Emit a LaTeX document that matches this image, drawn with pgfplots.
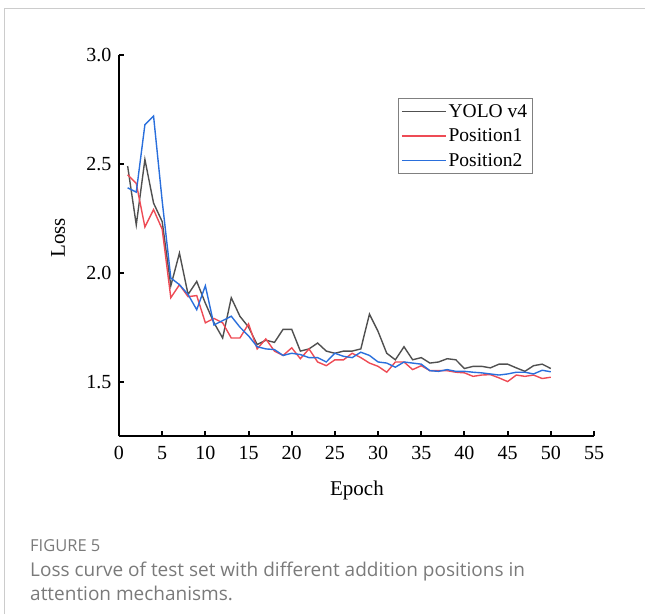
\documentclass[border=0pt]{standalone}
\usepackage{fontspec}
\setmainfont{Liberation Serif}
\newfontfamily\capfont{Open Sans}
\usepackage{pgfplots}
\pgfplotsset{compat=1.18}

\definecolor{yolo}{HTML}{505050}
\definecolor{posone}{HTML}{EE4B55}
\definecolor{postwo}{HTML}{2A6FDC}
\definecolor{framecol}{HTML}{CCCCCC}
\definecolor{captext}{HTML}{7A7A7A}

\begin{document}
\begin{tikzpicture}
% axis origin (south west of the plot box) sits at pixel (119,436) of the figure
\path[use as bounding box] (-119pt,-178pt) rectangle (526pt,436pt);
\draw[framecol, line width=1pt] (-114pt,-178pt) -- (-114pt,427pt) -- (526pt,427pt);

\begin{axis}[
    scale only axis, width=475pt, height=381pt,
    xmin=0, xmax=55, ymin=1.25, ymax=3.0,
    axis x line=bottom, axis y line=left,
    axis line style={-, line width=2pt},
    tick align=inside, major tick length=5pt,
    tick style={line width=2pt, black},
    xtick={0,5,...,55}, ytick={1.5,2.0,2.5,3.0},
    yticklabel style={xshift=-4pt, /pgf/number format/.cd, fixed, fixed zerofill, precision=1},
    xticklabel style={yshift=-7pt},
    /pgf/number format/assume math mode=true,
    ticklabel style={font=\fontsize{20}{22}\selectfont},
    label style={font=\fontsize{21}{24}\selectfont},
    xlabel={Epoch}, ylabel={Loss},
    xlabel style={at={(axis description cs:0.501,-0.142)}, anchor=center},
    ylabel style={at={(axis description cs:-0.128,0.52)}, anchor=center},
    legend style={at={(rel axis cs:0.587,0.887)}, anchor=north west,
        draw=gray, line width=0.8pt, font=\fontsize{19.5}{21}\selectfont,
        inner xsep=3pt, inner ysep=4pt, row sep=6pt},
    legend cell align=left,
    legend image code/.code={\draw[#1] (0pt,0pt) -- (44pt,0pt);},
    legend image post style={line width=1.4pt},
    every axis plot/.append style={line width=1.4pt},
]
\addplot[color=yolo] coordinates {
 (1,2.49) (2,2.22) (3,2.52) (4,2.32) (5,2.235) (6,1.94) (7,2.09) (8,1.90) (9,1.96) (10,1.86)
 (11,1.77) (12,1.70) (13,1.885) (14,1.80) (15,1.75) (16,1.67) (17,1.69) (18,1.68) (19,1.74) (20,1.74)
 (21,1.64) (22,1.65) (23,1.677) (24,1.64) (25,1.63) (26,1.64) (27,1.64) (28,1.65) (29,1.81) (30,1.73)
 (31,1.63) (32,1.60) (33,1.66) (34,1.60) (35,1.61) (36,1.585) (37,1.59) (38,1.605) (39,1.60) (40,1.56)
 (41,1.57) (42,1.57) (43,1.563) (44,1.58) (45,1.58) (46,1.563) (47,1.547) (48,1.573) (49,1.58) (50,1.56)
};
\addlegendentry{YOLO v4}
\addplot[color=posone] coordinates {
 (1,2.45) (2,2.41) (3,2.21) (4,2.29) (5,2.20) (6,1.885) (7,1.945) (8,1.89) (9,1.895) (10,1.77)
 (11,1.79) (12,1.77) (13,1.70) (14,1.70) (15,1.765) (16,1.65) (17,1.696) (18,1.64) (19,1.62) (20,1.655)
 (21,1.605) (22,1.65) (23,1.59) (24,1.573) (25,1.60) (26,1.60) (27,1.63) (28,1.61) (29,1.585) (30,1.57)
 (31,1.543) (32,1.59) (33,1.59) (34,1.555) (35,1.573) (36,1.55) (37,1.55) (38,1.55) (39,1.543) (40,1.54)
 (41,1.524) (42,1.53) (43,1.532) (44,1.517) (45,1.50) (46,1.53) (47,1.524) (48,1.53) (49,1.514) (50,1.52)
};
\addlegendentry{Position1}
\addplot[color=postwo] coordinates {
 (1,2.39) (2,2.37) (3,2.68) (4,2.72) (5,2.33) (6,1.976) (7,1.945) (8,1.90) (9,1.83) (10,1.94)
 (11,1.76) (12,1.78) (13,1.80) (14,1.75) (15,1.71) (16,1.66) (17,1.65) (18,1.647) (19,1.62) (20,1.63)
 (21,1.624) (22,1.61) (23,1.61) (24,1.59) (25,1.63) (26,1.616) (27,1.61) (28,1.635) (29,1.62) (30,1.59)
 (31,1.585) (32,1.566) (33,1.59) (34,1.585) (35,1.58) (36,1.55) (37,1.547) (38,1.555) (39,1.547) (40,1.547)
 (41,1.543) (42,1.54) (43,1.535) (44,1.53) (45,1.535) (46,1.543) (47,1.543) (48,1.535) (49,1.552) (50,1.545)
};
\addlegendentry{Position2}
\end{axis}

\node[anchor=base west, captext, font=\capfont\fontsize{16.5}{18}\selectfont, inner sep=0pt] at (-89pt,-115pt) {FIGURE 5};
\node[anchor=base west, captext, font=\capfont\fontsize{19}{22}\selectfont, inner sep=0pt] at (-89pt,-140pt) {Loss curve of test set with different addition positions in};
\node[anchor=base west, captext, font=\capfont\fontsize{19}{22}\selectfont, inner sep=0pt] at (-89pt,-164pt) {attention mechanisms.};
\end{tikzpicture}
\end{document}
